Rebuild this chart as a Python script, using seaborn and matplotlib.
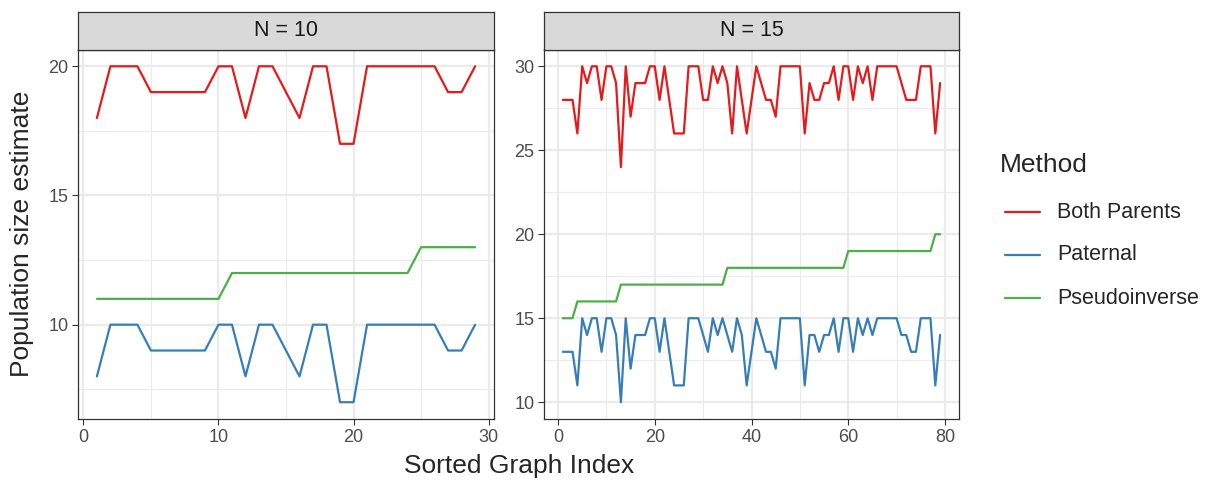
import matplotlib
matplotlib.use("Agg")
import matplotlib.pyplot as plt
from matplotlib.lines import Line2D
import seaborn as sns
import pandas as pd

# ---- data ----
idx_n10 = list(range(1, 30))
both_n10 = [18, 20, 20, 20, 19, 19, 19, 19, 19, 20, 20, 18, 20, 20, 19, 18, 20, 20, 17, 17,
            20, 20, 20, 20, 20, 20, 19, 19, 20]
pat_n10 = [8, 10, 10, 10, 9, 9, 9, 9, 9, 10, 10, 8, 10, 10, 9, 8, 10, 10, 7, 7,
           10, 10, 10, 10, 10, 10, 9, 9, 10]
pinv_n10 = [11, 11, 11, 11, 11, 11, 11, 11, 11, 11,
            12, 12, 12, 12, 12, 12, 12, 12, 12, 12, 12, 12, 12, 12,
            13, 13, 13, 13, 13]

idx_n15 = list(range(1, 80))
both_n15 = [28, 28, 28, 26, 30, 29, 30, 30, 28, 30, 30, 29, 24, 30, 27, 29, 29, 29, 30, 30,
            28, 30, 28, 26, 26, 26, 30, 30, 30, 28, 28, 30, 29, 30, 29, 26, 30, 28, 26, 28,
            30, 29, 28, 28, 27, 30, 30, 30, 30, 30, 26, 29, 28, 28, 29, 29, 30, 28, 30, 30,
            28, 30, 29, 30, 28, 30, 30, 30, 30, 30, 29, 28, 28, 28, 30, 30, 30, 26, 29]
pat_n15 = [13, 13, 13, 11, 15, 14, 15, 15, 13, 15, 15, 14, 10, 15, 12, 14, 14, 14, 15, 15,
           13, 15, 13, 11, 11, 11, 15, 15, 15, 14, 13, 15, 14, 15, 14, 13, 15, 14, 11, 13,
           15, 14, 13, 13, 12, 15, 15, 15, 15, 15, 11, 14, 14, 13, 14, 14, 15, 13, 15, 15,
           13, 15, 14, 15, 14, 15, 15, 15, 15, 15, 14, 14, 13, 13, 15, 15, 15, 11, 14]
pinv_n15 = [15, 15, 15,
            16, 16, 16, 16, 16, 16, 16, 16, 16,
            17, 17, 17, 17, 17, 17, 17, 17, 17, 17, 17, 17, 17, 17, 17, 17, 17, 17, 17, 17, 17, 17,
            18, 18, 18, 18, 18, 18, 18, 18, 18, 18, 18, 18, 18, 18, 18, 18, 18, 18, 18, 18, 18, 18, 18, 18, 18,
            19, 19, 19, 19, 19, 19, 19, 19, 19, 19, 19, 19, 19, 19, 19, 19, 19, 19,
            20, 20]

methods = ["Both Parents", "Paternal", "Pseudoinverse"]
colors = ["#E41A1C", "#377EB8", "#4DAF4A"]
palette = dict(zip(methods, colors))


def long_df(idx, series):
    frames = []
    for m, vals in zip(methods, series):
        frames.append(pd.DataFrame({"index": idx, "estimate": vals, "Method": m}))
    return pd.concat(frames, ignore_index=True)


df10 = long_df(idx_n10, [both_n10, pat_n10, pinv_n10])
df15 = long_df(idx_n15, [both_n15, pat_n15, pinv_n15])

sns.set_style("white")
plt.rcParams["font.family"] = ["Liberation Sans", "DejaVu Sans"]

W, H = 1208, 482
fig = plt.figure(figsize=(W / 100, H / 100), dpi=100)

panels = [
    # data, strip text, left px, right px, xticks, yticks, xlim, ylim
    (df10, "N = 10", 78, 494, [0, 10, 20, 30], [10, 15, 20], (-0.4, 30.4), (6.35, 20.65)),
    (df15, "N = 15", 544, 959, [0, 20, 40, 60, 80], [10, 15, 20, 25, 30], (-2.9, 82.9), (9.0, 31.0)),
]
top_px, strip_top_px, bottom_px = 49.5, 12, 419
dark = "#333333"

for df, label, l, r, xt, yt, xl, yl in panels:
    ax = fig.add_axes([l / W, 1 - bottom_px / H, (r - l) / W, (bottom_px - top_px) / H])
    ax.set_xlim(*xl)
    ax.set_ylim(*yl)
    # minor + major grid like theme_bw
    xminor = [(a + b) / 2 for a, b in zip(xt[:-1], xt[1:])]
    yminor = [yt[0] - (yt[1] - yt[0]) / 2] + [(a + b) / 2 for a, b in zip(yt[:-1], yt[1:])]
    for v in xminor:
        ax.axvline(v, color="#EBEBEB", lw=0.8, zorder=0)
    for v in yminor:
        if yl[0] < v < yl[1]:
            ax.axhline(v, color="#EBEBEB", lw=0.8, zorder=0)
    for v in xt:
        ax.axvline(v, color="#EBEBEB", lw=1.6, zorder=0)
    for v in yt:
        ax.axhline(v, color="#EBEBEB", lw=1.6, zorder=0)

    sns.lineplot(data=df, x="index", y="estimate", hue="Method", palette=palette,
                 hue_order=methods, lw=1.6, ax=ax, legend=False)
    ax.set_xticks(xt)
    ax.set_yticks(yt)
    ax.set_xlabel("")
    ax.set_ylabel("")
    ax.tick_params(axis="both", length=4, width=0.8, color=dark, labelsize=13,
                   labelcolor="#4D4D4D", pad=3, direction="out")
    ax.xaxis.set_ticks_position("bottom")
    ax.yaxis.set_ticks_position("left")
    for s in ax.spines.values():
        s.set_color(dark)
        s.set_linewidth(0.9)

    sax = fig.add_axes([l / W, 1 - top_px / H, (r - l) / W, (top_px - strip_top_px) / H])
    sax.set_facecolor("#D9D9D9")
    sax.set_xticks([])
    sax.set_yticks([])
    for s in sax.spines.values():
        s.set_color(dark)
        s.set_linewidth(0.9)
    sax.text(0.5, 0.5, label, ha="center", va="center", fontsize=15.5, color="#1A1A1A",
             transform=sax.transAxes)

fig.text(519 / W, 1 - 466 / H, "Sorted Graph Index", ha="center", va="center", fontsize=19)
fig.text(22 / W, 1 - 234 / H, "Population size estimate", ha="center", va="center",
         rotation=90, fontsize=19)

# legend, laid out like the ggplot guide
fig.text(1000 / W, 1 - 165 / H, "Method", ha="left", va="center", fontsize=19)
for m, c, y in zip(methods, colors, [212, 255, 298]):
    fig.add_artist(Line2D([1005 / W, 1040 / W], [1 - y / H, 1 - y / H], color=c, lw=1.6,
                          transform=fig.transFigure))
    fig.text(1057 / W, 1 - y / H, m, ha="left", va="center", fontsize=15.5)

fig.savefig("out.png", dpi=100)
